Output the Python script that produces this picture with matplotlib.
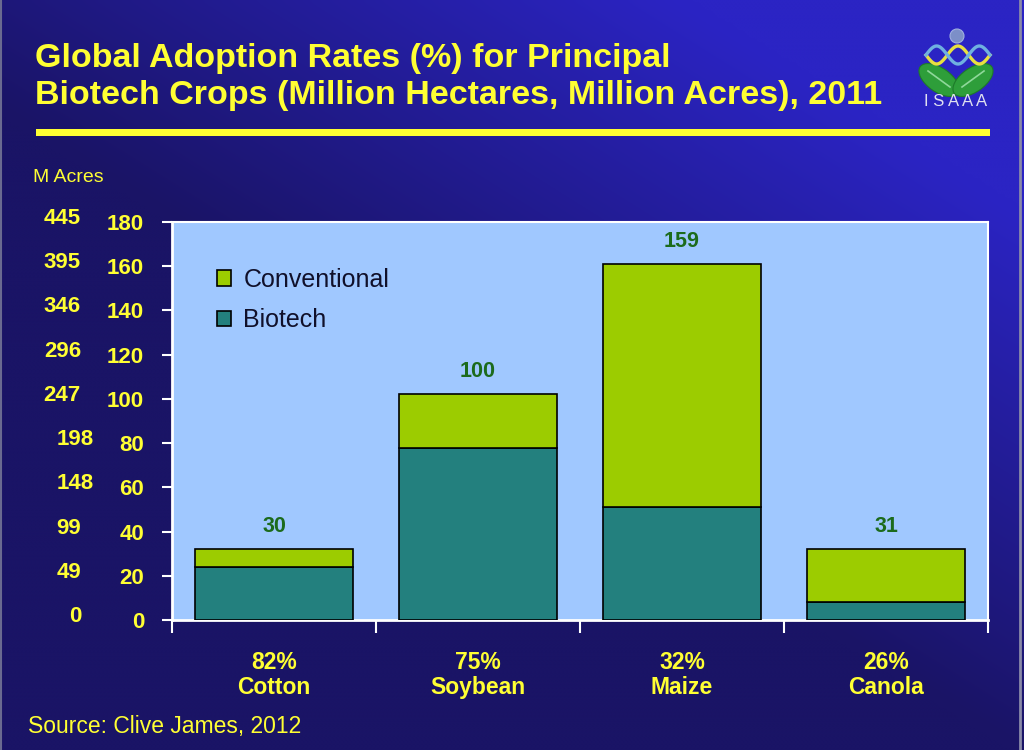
import numpy as np
import matplotlib
matplotlib.use("Agg")
import matplotlib.pyplot as plt
from matplotlib.patches import Patch, Rectangle, Ellipse, Circle
from matplotlib.lines import Line2D

plt.rcParams['font.family'] = ['Liberation Sans', 'DejaVu Sans']

# ---- data ----
crops = ["Cotton", "Soybean", "Maize", "Canola"]
adoption = ["82%", "75%", "32%", "26%"]
biotech = [24, 78, 51, 8]
conventional = [8, 24, 110, 24]
total_labels = ["30", "100", "159", "31"]
ha_ticks = [0, 20, 40, 60, 80, 100, 120, 140, 160, 180]
acre_labels = ["0", "49", "99", "148", "198", "247", "296", "346", "395", "445"]

YELLOW = "#FFFF33"
W, H = 1024, 750
fig = plt.figure(figsize=(W / 100, H / 100), dpi=100)

# ---- background gradient ----
bg = fig.add_axes([0, 0, 1, 1], zorder=-10)
xx, yy = np.meshgrid(np.linspace(0, 1, 256), np.linspace(0, 1, 188))
f = np.clip(1.2 * xx - 1.4 * yy + 0.2, 0, 1)
dark = np.array([0x1a, 0x14, 0x66]) / 255
bright = np.array([0x2b, 0x24, 0xc4]) / 255
img = dark[None, None, :] + (bright - dark)[None, None, :] * f[:, :, None]
bg.imshow(img, extent=[0, 1, 1, 0], aspect='auto', interpolation='bicubic')
bg.set_xlim(0, 1)
bg.set_ylim(1, 0)
bg.axis('off')
bg.add_line(Line2D([1020 / W, 1020 / W], [0, 1], color="#8a8aa8", lw=2))
bg.add_line(Line2D([1 / W, 1 / W], [0, 1], color="#6a6a90", lw=1.5))

# ---- title ----
fig.text(35 / W, 1 - 67 / H, "Global Adoption Rates (%) for Principal",
         color=YELLOW, fontsize=24.5, fontweight='bold', va='baseline', ha='left')
fig.text(35 / W, 1 - 104 / H, "Biotech Crops (Million Hectares, Million Acres), 2011",
         color=YELLOW, fontsize=24.5, fontweight='bold', va='baseline', ha='left')
fig.patches.append(Rectangle((36 / W, 1 - 136 / H), (990 - 36) / W, 7 / H,
                             transform=fig.transFigure, facecolor=YELLOW,
                             edgecolor='none'))

# ---- main axes ----
ax = fig.add_axes([172 / W, 1 - 620 / H, (988 - 172) / W, (620 - 222) / H])
ax.set_facecolor("#A0C8FF")
x = np.arange(len(crops))
bw = 0.77
ax.bar(x, biotech, bw, color="#23807E", edgecolor="black", linewidth=1.2,
       label="Biotech", zorder=3)
ax.bar(x, conventional, bw, bottom=biotech, color="#9CCC00", edgecolor="black",
       linewidth=1.2, label="Conventional", zorder=3)
for xi, b, c, lab in zip(x, biotech, conventional, total_labels):
    ax.annotate(lab, (xi, b + c), xytext=(0, 9), textcoords='offset points',
                ha='center', va='bottom', color="#1C6B1C", fontsize=15.5,
                fontweight='bold')

ax.set_xlim(-0.5, len(crops) - 0.5)
ax.set_ylim(0, 180)
ax.set_yticks(ha_ticks)
ax.set_yticklabels([str(t) for t in ha_ticks])
ax.set_xticks(np.arange(len(crops) + 1) - 0.5)
ax.set_xticklabels([])
ax.set_xticks(x, [f"{a}\n{c}" for a, c in zip(adoption, crops)], minor=True)
ax.tick_params(axis='y', colors='white', direction='out', length=7, width=1.5,
               pad=13, labelsize=16, labelcolor=YELLOW)
ax.tick_params(axis='x', which='major', colors='white', direction='out',
               length=9, width=1.5)
ax.tick_params(axis='x', which='minor', length=0, pad=22, labelsize=16.5,
               labelcolor=YELLOW)
for lbl in ax.get_yticklabels() + ax.get_xticklabels(minor=True):
    lbl.set_fontweight('bold')
for lbl in ax.get_xticklabels(minor=True):
    lbl.set_linespacing(1.15)
for s in ax.spines.values():
    s.set_color('white')
    s.set_linewidth(1.5)
ax.spines['left'].set_linewidth(2)
ax.spines['bottom'].set_linewidth(2)

handles = [Patch(facecolor="#9CCC00", edgecolor="black", linewidth=1.2),
           Patch(facecolor="#23807E", edgecolor="black", linewidth=1.2)]
leg = ax.legend(handles, ["Conventional", "Biotech"], loc='upper left',
                bbox_to_anchor=(0.055, 0.885), frameon=False, fontsize=18,
                borderpad=0, borderaxespad=0, handlelength=0.56,
                handleheight=0.56, handletextpad=0.5, labelspacing=0.65)
for t in leg.get_texts():
    t.set_color("#10102A")

# ---- acres axis labels ----
for val, lab in zip(ha_ticks, acre_labels):
    xr = 94 if lab in ("198", "148") else 81
    ax.annotate(lab, xy=(xr / W, val), xycoords=('figure fraction', 'data'),
                xytext=(0, 2.5), textcoords='offset points',
                ha='right', va='center', color=YELLOW, fontsize=16,
                fontweight='bold')

fig.text(33 / W, 1 - 177 / H, "M Acres", color=YELLOW, fontsize=14,
         ha='left', va='center')
fig.text(28 / W, 1 - 727 / H, "Source: Clive James, 2012", color=YELLOW,
         fontsize=16.5, ha='left', va='center')

# ---- logo ----
lg = fig.add_axes([900 / W, 1 - 120 / H, 110 / W, 100 / H])
lg.set_xlim(900, 1010)
lg.set_ylim(120, 20)
lg.axis('off')
lg.add_patch(Ellipse((939, 80), 46, 24, angle=35, facecolor="#2E9E3A",
                     edgecolor="#1E7A2A", lw=0.8))
lg.add_patch(Ellipse((973, 80), 46, 24, angle=-35, facecolor="#2E9E3A",
                     edgecolor="#1E7A2A", lw=0.8))
lg.plot([928, 950], [71, 87], color="#8FD89A", lw=1.2)
lg.plot([984, 962], [71, 87], color="#8FD89A", lw=1.2)
lg.add_patch(Circle((957, 36), 7, facecolor="#7C8FC8", edgecolor="#A0B0E0",
                    lw=0.8))
tt = np.linspace(0, 1, 100)
hx = 926 + 64 * tt
lg.plot(hx, 55 + 9 * np.sin(2 * np.pi * 1.5 * tt), color="#E8E040", lw=2.4)
lg.plot(hx, 55 - 9 * np.sin(2 * np.pi * 1.5 * tt), color="#6FB0E0", lw=2.4)
lg.text(956, 102, "I S A A A", color="#E0E0F0", fontsize=12,
        ha='center', va='center')

fig.savefig("out.png", dpi=100)
